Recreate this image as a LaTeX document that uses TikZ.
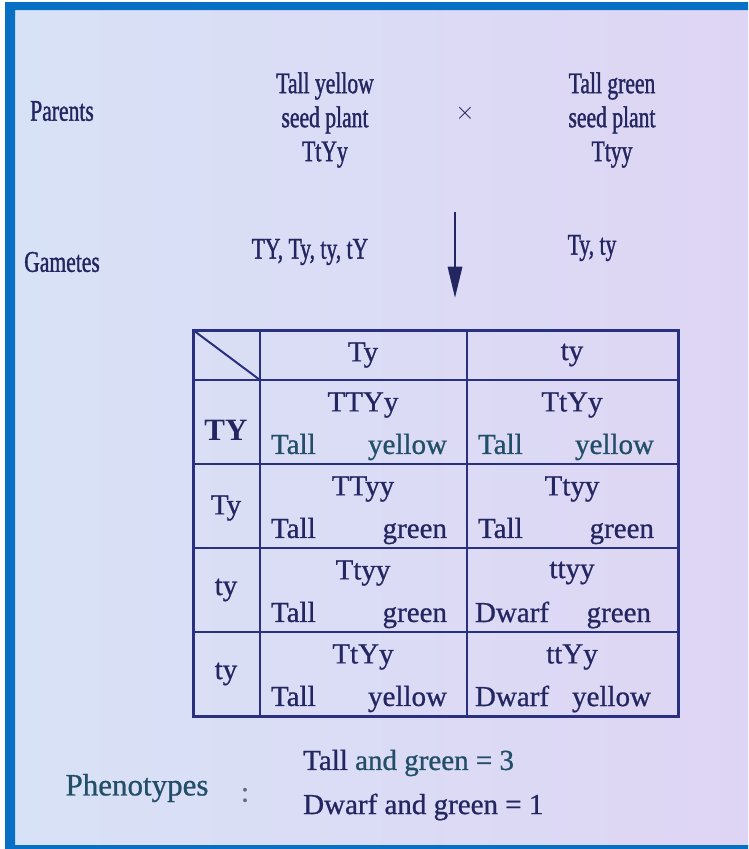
\documentclass[tikz,border=0pt]{standalone}
\usepackage{fontspec}
\setmainfont{Liberation Serif}
\newfontfamily\narrowfont[FakeStretch=0.72,FakeBold=1.2]{Liberation Serif}
\newfontfamily\cellfont[FakeBold=0.8]{Liberation Serif}
\usepackage{tikz}
\usetikzlibrary{arrows.meta,positioning}
\usepackage{xcolor}
\definecolor{frameblue}{RGB}{8,112,196}
\definecolor{bgleft}{RGB}{216,226,246}
\definecolor{bgright}{RGB}{222,213,244}
\definecolor{inkblue}{RGB}{36,38,98}
\definecolor{inkteal}{RGB}{34,78,104}
\definecolor{gridblue}{RGB}{42,48,128}
\newcommand{\phen}[2]{\hbox to 176pt{#1\hfill#2}}

\begin{document}
\begin{tikzpicture}[
  x=1pt,y=-1pt,
  font=\fontsize{30}{34}\selectfont,
  txt/.style={text=inkblue,inner sep=0pt,align=center},
  top/.style={txt,font=\fontsize{30}{34}\selectfont\narrowfont},
  cell/.style={txt,font=\fontsize{29}{32}\selectfont\cellfont},
  grid/.style={draw=gridblue,line width=2pt},
  arr/.style={-{Triangle[length=11mm,width=5mm]},line width=2.5pt,draw=inkblue}
]
\useasboundingbox (0,0) rectangle (748,849);
\fill[white] (0,0) rectangle (748,849);
\shade[left color=bgleft,right color=bgright] (15,10) rectangle (748,845);
\fill[frameblue] (5,2) rectangle (15,849) (5,2) rectangle (748,10) (5,845) rectangle (748,849);

% parents and gametes
\node[top] (parents) at (62,111) {Parents};
\node[top] (yellowplant) at (325,120) {Tall yellow\\seed plant\\TtYy};
\node[top,font=\fontsize{28}{30}\selectfont] (cross) at (465,113) {$\times$};
\node[top] (greenplant) at (612,120) {Tall green\\seed plant\\Ttyy};
\node[top] (gametes) at (62,262) {Gametes};
\node[top] (gamyellow) at (310,252) {TY, Ty, ty, tY};
\node[top] (gamgreen) at (592,248) {Ty, ty};
\coordinate (arrtop) at (455,212);
\coordinate (arrend) at (455,298);
\draw[arr] (arrtop)--(arrend);

% punnett square
\draw[grid] (193,380)--(678,380) (193,464)--(678,464) (193,548)--(678,548) (193,632)--(678,632);
\draw[grid] (260,330)--(260,716) (467,330)--(467,716);
\draw[grid,line width=3pt] (193,330) rectangle (678,716);
\draw[grid] (193,330)--(260,380);
\node[cell] (ty1) at (363,355) {Ty};
\node[cell] (ty2) at (572,355) {ty};
\node[cell,font=\fontsize{31}{32}\selectfont\bfseries] (rowTY) at (226,430) {TY};
\node[cell] (rowTy) at (226,508) {Ty};
\node[cell] (rowty1) at (226,590) {ty};
\node[cell] (rowty2) at (226,674) {ty};

\node[cell] (g11) at (363,405) {TTYy};
\node[cell,text=inkteal] (p11) at (359,447) {\phen{Tall}{yellow}};
\node[cell] (g12) at (572,405) {TtYy};
\node[cell,text=inkteal] (p12) at (566,447) {\phen{Tall}{yellow}};
\node[cell] (g21) at (363,489) {TTyy};
\node[cell] (p21) at (359,531) {\phen{Tall}{green}};
\node[cell] (g22) at (572,489) {Ttyy};
\node[cell] (p22) at (566,531) {\phen{Tall}{green}};
\node[cell] (g31) at (363,573) {Ttyy};
\node[cell] (p31) at (359,615) {\phen{Tall}{green}};
\node[cell] (g32) at (572,573) {ttyy};
\node[cell] (p32) at (563,615) {\phen{Dwarf}{green}};
\node[cell] (g41) at (363,657) {TtYy};
\node[cell] (p41) at (359,699) {\phen{Tall}{yellow}};
\node[cell] (g42) at (572,657) {ttYy};
\node[cell] (p42) at (563,699) {\phen{Dwarf}{yellow}};

% phenotypes
\node[cell,text=inkteal,font=\fontsize{31}{32}\selectfont\cellfont] (phenotypes) at (137,788) {Phenotypes};
\node[cell,text=gray!70!inkblue] (colon) at (245,795) {:};
\node[cell,anchor=west] (tallgreen) at (303,763) {Tall \textcolor{inkteal}{and green = 3}};
\node[cell,anchor=west] (dwarfgreen) at (303,807) {Dwarf and green = 1};
\end{tikzpicture}
\end{document}
